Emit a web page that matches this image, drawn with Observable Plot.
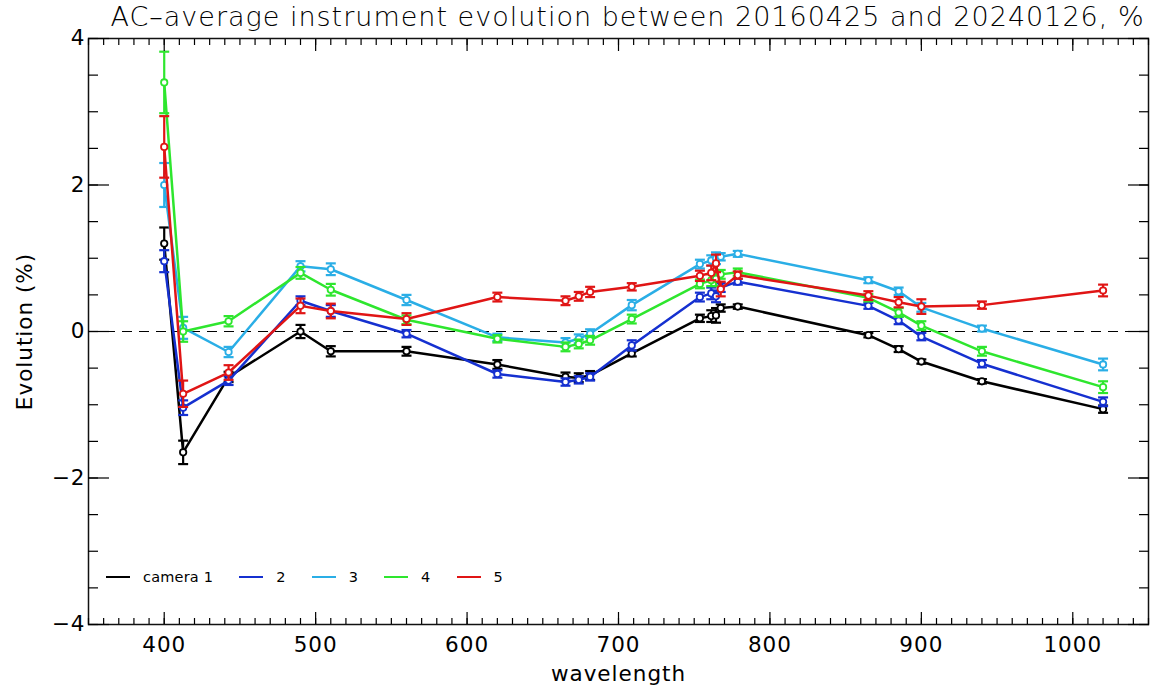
<!DOCTYPE html>
<html><head><meta charset="utf-8">
<script src="https://cdn.jsdelivr.net/npm/d3@7"></script>
<script src="https://cdn.jsdelivr.net/npm/@observablehq/plot@0.6"></script>
<style>
body{margin:0;background:#fff;}
#wrap{position:relative;width:1160px;height:687px;font-family:"DejaVu Sans",sans-serif;}
#legend{position:absolute;left:106px;top:569px;display:flex;align-items:center;font-size:14.5px;color:#000;letter-spacing:0.2px;}
#legend .item{display:flex;align-items:center;margin-right:26px;}
#legend .sw{display:inline-block;width:24px;height:1.5px;margin-right:13px;}
#wrap svg text{letter-spacing:1px;}
</style></head><body><div id="wrap"></div>
<script>
const titleText = "AC\u2013average instrument evolution between 20160425 and 20240126, %";
const wavelengths = [400, 412.5, 442.5, 490, 510, 560, 620, 665, 673.75, 681.25, 708.75, 753.75, 761.25, 764.375, 767.5, 778.75, 865, 885, 900, 940, 1020];
const cameras = ["camera 1", "2", "3", "4", "5"];
const colors = ["#000000", "#1530d0", "#2aaee6", "#2ee62e", "#e01515"];
const cam1 = [1.2, -1.65, -0.62, 0.0, -0.27, -0.27, -0.45, -0.62, -0.63, -0.6, -0.3, 0.18, 0.21, 0.22, 0.32, 0.34, -0.05, -0.24, -0.41, -0.68, -1.06];
const cam2 = [0.96, -1.04, -0.67, 0.42, 0.28, -0.03, -0.58, -0.69, -0.66, -0.62, -0.19, 0.47, 0.52, 0.48, 0.6, 0.68, 0.35, 0.15, -0.07, -0.44, -0.96];
const cam3 = [2.0, 0.05, -0.28, 0.89, 0.85, 0.43, -0.08, -0.15, -0.1, -0.03, 0.36, 0.92, 0.97, 1.0, 1.02, 1.06, 0.7, 0.55, 0.33, 0.04, -0.45];
const cam4 = [3.4, 0.0, 0.14, 0.8, 0.57, 0.16, -0.1, -0.21, -0.17, -0.12, 0.17, 0.65, 0.7, 0.72, 0.78, 0.81, 0.46, 0.26, 0.08, -0.27, -0.76];
const cam5 = [2.52, -0.85, -0.56, 0.35, 0.28, 0.17, 0.47, 0.42, 0.48, 0.54, 0.61, 0.76, 0.8, 0.93, 0.58, 0.77, 0.49, 0.4, 0.34, 0.36, 0.56];
const err1 = [0.22, 0.16, 0.07, 0.09, 0.07, 0.06, 0.06, 0.06, 0.06, 0.06, 0.04, 0.05, 0.08, 0.1, 0.05, 0.03, 0.03, 0.04, 0.03, 0.03, 0.05];
const err2 = [0.15, 0.1, 0.06, 0.06, 0.08, 0.05, 0.05, 0.05, 0.05, 0.05, 0.07, 0.06, 0.08, 0.08, 0.06, 0.04, 0.04, 0.05, 0.05, 0.05, 0.06];
const err3 = [0.3, 0.15, 0.07, 0.07, 0.08, 0.07, 0.05, 0.06, 0.06, 0.06, 0.07, 0.06, 0.07, 0.08, 0.05, 0.04, 0.04, 0.05, 0.06, 0.04, 0.08];
const err4 = [0.42, 0.14, 0.07, 0.08, 0.08, 0.06, 0.05, 0.06, 0.06, 0.06, 0.06, 0.06, 0.08, 0.1, 0.06, 0.05, 0.05, 0.06, 0.06, 0.06, 0.08];
const err5 = [0.42, 0.18, 0.1, 0.1, 0.1, 0.08, 0.06, 0.06, 0.06, 0.07, 0.05, 0.07, 0.1, 0.12, 0.1, 0.05, 0.06, 0.07, 0.1, 0.05, 0.08];
const xTicks = [400, 500, 600, 700, 800, 900, 1000];
const yTicks = [-4, -2, 0, 2, 4];
const xLabel = "wavelength";
const yLabel = "Evolution (%)";

const values = [cam1, cam2, cam3, cam4, cam5];
const errors = [err1, err2, err3, err4, err5];
const xMinor = d3.range(350, 1051, 10);
const yMinor = d3.range(-4, 4.01, 0.5);
const capHalf = 3.3;

const seriesMarks = cameras.flatMap((cam, i) => {
  const rows = wavelengths.map((w, j) => ({w, v: values[i][j], e: errors[i][j]}));
  const c = colors[i];
  return [
    Plot.line(rows, {x: "w", y: "v", stroke: c, strokeWidth: 2.5}),
    Plot.ruleX(rows, {x: "w", y1: d => d.v - d.e, y2: d => d.v + d.e, stroke: c, strokeWidth: 2.2}),
    Plot.link(rows, {x1: d => d.w - capHalf, x2: d => d.w + capHalf, y1: d => d.v + d.e, y2: d => d.v + d.e, stroke: c, strokeWidth: 2.2}),
    Plot.link(rows, {x1: d => d.w - capHalf, x2: d => d.w + capHalf, y1: d => d.v - d.e, y2: d => d.v - d.e, stroke: c, strokeWidth: 2.2}),
    Plot.dot(rows, {x: "w", y: "v", r: 3.2, stroke: c, fill: "white", strokeWidth: 1.8})
  ];
});

const noText = () => "";
const fmt = d => d < 0 ? "\u2212" + Math.abs(d) : String(d);
const plot = Plot.plot({
  width: 1160, height: 687,
  marginLeft: 88, marginRight: 12, marginTop: 38, marginBottom: 63,
  style: {fontFamily: "DejaVu Sans, sans-serif", fontSize: "21px", background: "white", color: "#000", overflow: "visible"},
  x: {domain: [350, 1050]},
  y: {domain: [-4, 4]},
  marks: [
    Plot.ruleY([0], {stroke: "black", strokeWidth: 1, strokeDasharray: "10,7"}),
    ...seriesMarks,
    Plot.frame({stroke: "#111", strokeWidth: 1.5}),
    Plot.axisX({ticks: xMinor, anchor: "bottom", tickSize: -6, tickFormat: noText, label: null, strokeWidth: 1.2}),
    Plot.axisX({ticks: xTicks, anchor: "bottom", tickSize: -12, tickFormat: noText, label: null, strokeWidth: 1.2}),
    Plot.axisX({ticks: xTicks, anchor: "bottom", tickSize: 0, tickPadding: 12, tickFormat: fmt, fontSize: 21.5, label: xLabel, labelAnchor: "center", labelArrow: "none", labelOffset: 56}),
    Plot.axisX({ticks: xMinor, anchor: "top", tickSize: -6, tickFormat: noText, label: null, strokeWidth: 1.2}),
    Plot.axisX({ticks: xTicks, anchor: "top", tickSize: -12, tickFormat: noText, label: null, strokeWidth: 1.2}),
    Plot.axisY({ticks: yMinor, anchor: "left", tickSize: -10, tickFormat: noText, label: null, strokeWidth: 1.2}),
    Plot.axisY({ticks: yTicks, anchor: "left", tickSize: -21, tickFormat: noText, label: null, strokeWidth: 1.2}),
    Plot.axisY({ticks: yTicks, anchor: "left", tickSize: 0, tickPadding: 3, tickFormat: fmt, fontSize: 21.5, label: yLabel, labelAnchor: "center", labelArrow: "none", labelOffset: 72}),
    Plot.axisY({ticks: yMinor, anchor: "right", tickSize: -10, tickFormat: noText, label: null, strokeWidth: 1.2}),
    Plot.axisY({ticks: yTicks, anchor: "right", tickSize: -21, tickFormat: noText, label: null, strokeWidth: 1.2}),
    Plot.text([titleText], {frameAnchor: "top", dy: -21, dx: 9, fontSize: 27, fontWeight: 300, lineAnchor: "middle", fill: "#000"})
  ]
});

const wrap = document.getElementById("wrap");
wrap.appendChild(plot);
const legend = document.createElement("div");
legend.id = "legend";
cameras.forEach((cam, i) => {
  const item = document.createElement("span");
  item.className = "item";
  const sw = document.createElement("span");
  sw.className = "sw";
  sw.style.background = colors[i];
  const t = document.createElement("span");
  t.textContent = cam;
  item.appendChild(sw);
  item.appendChild(t);
  legend.appendChild(item);
});
wrap.appendChild(legend);
</script>
</body></html>
